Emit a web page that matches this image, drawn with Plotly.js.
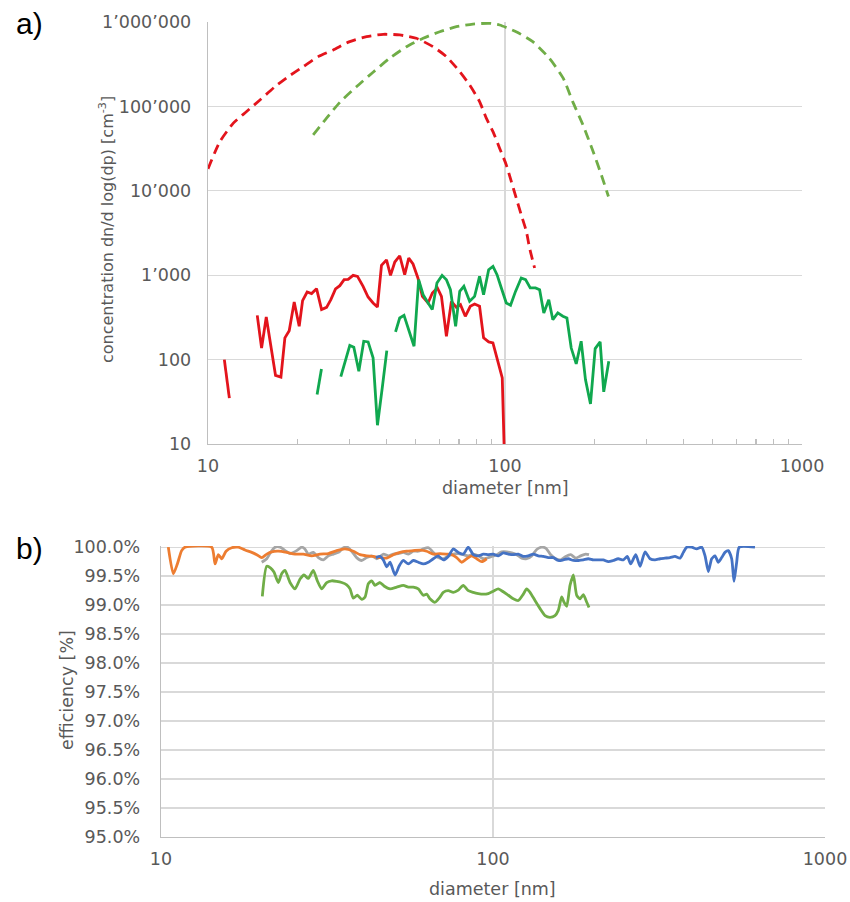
<!DOCTYPE html>
<html>
<head>
<meta charset="utf-8">
<script src="https://cdn.plot.ly/plotly-3.0.1.min.js"></script>
<style>
html,body{margin:0;padding:0;background:#fff;}
#chart{width:850px;height:902px;}
</style>
</head>
<body>
<div id="chart"></div>
<script>
// ---------- panel a) data ----------
const redSolidD = [11.35, 11.8, null, 14.65, 15.15, 15.71, 16.24, 16.88, 17.60, 18.15, 18.77, 19.51, 20.28, 20.82, 21.57, 22.32, 23.20, 24.12, 25.07, 25.92, 26.88, 27.79, 28.73, 29.64, 30.81, 31.87, 33.28, 34.59, 35.96, 37.19, 38.38, 39.91, 41.16, 42.56, 44.21, 45.95, 47.41, 49.01, 50.9, 52.7, 55.06, 56.95, 59.2, 61.1, 63.5, 66.0, 68.6, 70.8, 73.5, 76.4, 79.0, 82.1, 84.7, 88.1, 91.07, 94.6, 97.9, 100.2];
const redSolidV = [100, 35, null, 334, 137, 320, 151, 65, 62, 181, 220, 482, 248, 499, 632, 605, 692, 391, 416, 513, 687, 752, 885, 893, 995, 968, 738, 552, 469, 420, 1306, 1521, 995, 1432, 1700, 1014, 1596, 1357, 927, 561, 469, 615, 706, 561, 189, 490, 416, 448, 326, 428, 456, 428, 181, 162, 158, 95.5, 60.7, 3];

const greenSolidD = [23.3, 24.1, null, 28.0, 29.04, 30.02, 30.97, 32.2, 33.45, 34.6, 35.96, 37.2, 38.6, 40.0, null, 42.8, 44.2, 45.7, 47.4, 49.4, 51.2, 53.0, 55.1, 56.9, 59.0, 61.4, 63.5, 65.5, 68.2, 70.4, 72.7, 76.0, 79.0, 82.1, 84.7, 88.1, 91.1, 94.0, 97.2, 101, 104.4, 108.5, 113.4, 117.3, 121.6, 126.7, 130.8, 135.1, 140.4, 144.9, 150.6, 156.6, 161.6, 167.1, 173.7, 180.5, 186.6, 194.0, 201.2, 209.1, 215, 223.6];
const greenSolidV = [38.5, 77.6, null, 63, 95.5, 147, 140, 72.8, 165, 162, 105, 16.7, 46, 128, null, 213, 311, 334, 226, 144, 885, 588, 469, 391, 809, 995, 885, 673, 248, 643, 738, 490, 561, 968, 588, 1161, 1271, 1014, 706, 469, 440, 643, 927, 885, 706, 706, 673, 357, 513, 297, 357, 326, 311, 137, 89, 165, 58, 29.9, 135, 162, 41.5, 95.5];

const redDashD = [10.0, 10.97, 12.17, 13.49, 14.96, 16.80, 18.62, 20.92, 23.49, 26.4, 30.0, 34.2, 38.9, 44.2, 50.3, 57.2, 63.5, 70.4, 76.0, 82.1, 86.5, 91.1, 95.9, 101, 105, 109.1, 113.4, 118, 121, 125.8];
const redDashV = [18200, 38350, 63300, 87000, 119000, 171000, 225000, 296000, 389000, 467000, 585000, 670000, 715000, 702000, 641000, 510000, 389000, 258000, 180000, 114000, 72500, 50300, 32000, 20300, 12900, 8200, 5200, 3300, 2100, 1217];

const greenDashD = [22.6, 25.07, 27.8, 31.6, 35.96, 40.9, 46.6, 53.0, 60.3, 68.6, 78.0, 88.7, 95.9, 109, 124, 141, 157, 169, 183, 198, 211, 223];
const greenDashV = [46000, 72500, 112000, 171000, 254000, 372000, 510000, 641000, 767000, 880000, 946000, 965000, 921000, 767000, 585000, 372000, 216000, 114000, 60400, 29200, 15500, 8560];

// ---------- panel b) data ----------
const orangeD = [10.52, 10.89, 11.20, 11.54, 11.81, 14.21, 14.55, 14.88, 15.24, 15.70, 16.33, 17.10, 17.91, 18.76, 19.42, 20.11, 20.82, 21.55, 22.56, 23.91, 25.33, 26.83, 28.44, 30.13, 31.92, 33.82, 35.83, 37.96, 39.76, 41.66, 43.61, 45.67, 47.85, 50.09, 52.47, 54.95, 57.54, 60.28, 63.13, 66.09, 69.24, 72.52, 75.08, 77.74, 80.48, 83.33, 86.27, 89.31, 92.48, 95.72];
const orangeV = [100, 99.54, 99.71, 99.94, 100, 100, 99.71, 99.87, 99.80, 99.93, 99.99, 100, 99.95, 99.91, 99.87, 99.82, 99.88, 99.92, 99.93, 99.91, 99.88, 99.88, 99.85, 99.88, 99.89, 99.94, 99.97, 99.93, 99.87, 99.85, 99.84, 99.82, 99.81, 99.87, 99.91, 99.93, 99.94, 99.95, 99.93, 99.88, 99.89, 99.88, 99.87, 99.82, 99.74, 99.80, 99.85, 99.80, 99.75, 99.80];

const grayD = [20.11, 20.82, 21.39, 22.06, 22.85, 23.65, 24.48, 25.63, 26.52, 27.13, 27.76, 28.75, 29.78, 30.83, 31.92, 33.05, 34.22, 35.44, 36.44, 37.52, 38.84, 40.21, 41.66, 43.14, 44.67, 46.79, 48.45, 50.09, 51.87, 53.71, 55.6, 57.54, 59.6, 61.7, 63.9, 66.1, 68.4, 70.9, 73.4, 76.0, 78.7, 81.5, 84.3, 87.3, 90.4, 93.6, 96.9, 100.3, 102.6, 106.2, 110, 113.8, 117.9, 122, 126.3, 130.8, 135.4, 140.2, 144.4, 149.2, 154.5, 159.9, 165.6, 171.4, 177.5, 183.7, 190.2, 194.6];
const grayV = [99.74, 99.80, 99.91, 100, 100, 99.94, 99.89, 99.94, 100, 99.97, 99.88, 99.91, 99.82, 99.78, 99.85, 99.88, 99.91, 99.99, 100, 99.93, 99.82, 99.77, 99.82, 99.85, 99.80, 99.88, 99.85, 99.88, 99.89, 99.91, 99.88, 99.93, 99.93, 99.97, 99.99, 99.91, 99.82, 99.80, 99.85, 99.88, 99.89, 99.87, 99.85, 99.88, 99.85, 99.80, 99.82, 99.85, 99.87, 99.92, 99.92, 99.90, 99.87, 99.81, 99.80, 99.85, 99.96, 100, 99.98, 99.87, 99.80, 99.78, 99.84, 99.87, 99.81, 99.85, 99.88, 99.87];

const blueD = [44.4, 45.67, 46.73, 47.85, 48.97, 50.69, 52.22, 53.69, 55.58, 57.53, 59.57, 61.66, 63.84, 66.09, 68.41, 70.83, 73.34, 75.92, 78.6, 81.38, 84.25, 87.23, 90.3, 93.5, 96.8, 100.2, 103.7, 107.4, 111.2, 115.1, 119.2, 123.4, 127.7, 132.3, 136.9, 141.8, 146.8, 151.9, 157.3, 162.8, 168.6, 174.6, 180.7, 187.1, 193.6, 200.5, 207.6, 214.9, 222.5, 230.3, 238.4, 246.9, 253.8, 259.9, 269.1, 277.3, 287.1, 297.2, 307.6, 318.5, 329.7, 341.3, 353.4, 365.9, 374.4, 383.2, 396.7, 410.8, 425.3, 435.2, 445.2, 455.8, 466.4, 477.2, 488.5, 499.7, 511.3, 523.5, 532, 542, 552, 615.3];
const blueV = [99.82, 99.84, 99.78, 99.66, 99.74, 99.52, 99.68, 99.77, 99.71, 99.77, 99.74, 99.71, 99.74, 99.80, 99.85, 99.78, 99.84, 99.97, 99.91, 99.88, 100, 99.87, 99.85, 99.88, 99.87, 99.88, 99.85, 99.90, 99.88, 99.87, 99.88, 99.84, 99.85, 99.88, 99.85, 99.84, 99.82, 99.82, 99.77, 99.78, 99.80, 99.77, 99.77, 99.78, 99.80, 99.78, 99.78, 99.78, 99.75, 99.77, 99.80, 99.78, 99.84, 99.71, 99.87, 99.67, 99.92, 99.80, 99.78, 99.80, 99.81, 99.82, 99.84, 99.81, 99.91, 100, 100, 99.97, 100, 99.85, 99.58, 99.80, 99.85, 99.74, 99.82, 99.91, 99.94, 99.80, 99.41, 99.74, 100, 100];

const greenEffD = [20.19, 20.82, 21.40, 21.89, 22.56, 23.09, 23.63, 24.47, 25.33, 26.23, 26.96, 27.78, 28.75, 29.57, 30.48, 31.56, 32.68, 33.82, 35.02, 36.25, 37.1, 37.96, 39.03, 40.23, 41.17, 42.12, 43.12, 44.11, 45.67, 46.96, 48.97, 51.29, 53.69, 55.58, 57.53, 59.57, 61.66, 63.13, 64.58, 66.87, 69.24, 70.83, 73.34, 75.92, 78.6, 81.38, 84.25, 87.23, 90.3, 93.5, 96.8, 100.2, 103.7, 107.4, 111.2, 115.1, 119.2, 123.4, 126.3, 129.3, 133.8, 138.6, 143.5, 148.5, 153.7, 157.3, 161, 163.7, 166.7, 170.6, 174.6, 178.7, 182.8, 187.1, 191.6, 194.6];
const greenEffV = [99.15, 99.67, 99.64, 99.57, 99.39, 99.54, 99.60, 99.39, 99.28, 99.45, 99.52, 99.46, 99.60, 99.42, 99.28, 99.39, 99.42, 99.41, 99.39, 99.35, 99.28, 99.12, 99.17, 99.10, 99.14, 99.37, 99.42, 99.34, 99.39, 99.33, 99.28, 99.31, 99.34, 99.31, 99.31, 99.28, 99.17, 99.19, 99.11, 99.05, 99.14, 99.22, 99.25, 99.22, 99.26, 99.34, 99.25, 99.22, 99.20, 99.19, 99.20, 99.24, 99.28, 99.23, 99.17, 99.11, 99.08, 99.19, 99.28, 99.22, 99.08, 98.94, 98.82, 98.79, 98.82, 98.91, 99.14, 99.05, 98.98, 99.34, 99.52, 99.17, 99.11, 99.18, 99.05, 98.96];

// ---------- tick labels ----------
const xTickVals = [10, 100, 1000];
const xTickText = ['10', '100', '1000'];
const xMinorVals = [20, 30, 40, 50, 60, 70, 80, 90, 200, 300, 400, 500, 600, 700, 800, 900];
const yTopTickVals = [10, 100, 1000, 10000, 100000, 1000000];
const yTopTickText = ['10', '100', '1’000', '10’000', '100’000', '1’000’000'];
const yBotTickVals = [95.0, 95.5, 96.0, 96.5, 97.0, 97.5, 98.0, 98.5, 99.0, 99.5, 100.0];
const yBotTickText = ['95.0%', '95.5%', '96.0%', '96.5%', '97.0%', '97.5%', '98.0%', '98.5%', '99.0%', '99.5%', '100.0%'];

// ---------- styling ----------
const FONT = 'DejaVu Sans, Verdana, sans-serif';
const TXT = '#595959';
const GRID = '#d9d9d9';
const AXL = '#bfbfbf';
const W = 850, H = 902;

const RED = '#e3141c';
const GREEN_SOLID = '#10a84f';
const GREEN_DASH = '#70ad47';
const BLUE = '#4472c4';
const ORANGE = '#ed7d31';
const GRAY = '#a5a5a5';
const GREEN_EFF = '#70ad47';

const LW = 2.8;
const DASH = '10px,6px';

function tr(x, y, color, dash, xa, ya, shape) {
  return {
    x: x, y: y, type: 'scatter', mode: 'lines',
    xaxis: xa, yaxis: ya, connectgaps: false,
    line: {color: color, width: LW, dash: dash, shape: shape || 'linear', smoothing: 0.6},
    hoverinfo: 'skip', showlegend: false
  };
}

const data = [
  tr(redDashD, redDashV, RED, DASH, 'x', 'y', 'spline'),
  tr(greenDashD, greenDashV, GREEN_DASH, DASH, 'x', 'y', 'spline'),
  tr(redSolidD, redSolidV, RED, 'solid', 'x', 'y'),
  tr(greenSolidD, greenSolidV, GREEN_SOLID, 'solid', 'x', 'y'),
  tr(grayD, grayV, GRAY, 'solid', 'x2', 'y2', 'spline'),
  tr(orangeD, orangeV, ORANGE, 'solid', 'x2', 'y2', 'spline'),
  tr(blueD, blueV, BLUE, 'solid', 'x2', 'y2', 'spline'),
  tr(greenEffD, greenEffV, GREEN_EFF, 'solid', 'x2', 'y2', 'spline')
];

const tickFont = {family: FONT, size: 17.5, color: TXT};

function xAxisBase(domain, anchor) {
  return {
    type: 'log', range: [1, 3], domain: domain, anchor: anchor,
    tickmode: 'array', tickvals: xTickVals, ticktext: xTickText,
    ticks: '', showgrid: true, gridcolor: GRID, gridwidth: 1.3,
    showline: true, linecolor: AXL, linewidth: 1.3, zeroline: false,
    tickfont: tickFont, ticklabelstandoff: 6, automargin: false, fixedrange: true
  };
}

const layout = {
  width: W, height: H,
  margin: {l: 0, r: 0, t: 0, b: 0},
  paper_bgcolor: '#ffffff', plot_bgcolor: '#ffffff',
  showlegend: false,
  xaxis: Object.assign(xAxisBase([208 / W, 802 / W], 'y'), {
    minor: {tickmode: 'array', tickvals: xMinorVals, ticks: 'inside', ticklen: 5,
            tickcolor: AXL, tickwidth: 1.2, showgrid: false}
  }),
  yaxis: {
    type: 'log', range: [1, 6], domain: [1 - 444 / H, 1 - 22 / H], anchor: 'x',
    tickmode: 'array', tickvals: yTopTickVals, ticktext: yTopTickText,
    ticks: '', showgrid: true, gridcolor: GRID, gridwidth: 1.3,
    showline: true, linecolor: AXL, linewidth: 1.3, zeroline: false,
    tickfont: tickFont, ticklabelstandoff: 12, automargin: false, fixedrange: true
  },
  xaxis2: xAxisBase([161 / W, 825 / W], 'y2'),
  yaxis2: {
    type: 'linear', range: [95, 100.02], domain: [1 - 837 / H, 1 - 546 / H], anchor: 'x2',
    tickmode: 'array', tickvals: yBotTickVals, ticktext: yBotTickText,
    ticks: '', showgrid: true, gridcolor: GRID, gridwidth: 1.3,
    showline: true, linecolor: AXL, linewidth: 1.3, zeroline: false,
    tickfont: tickFont, ticklabelstandoff: 16, automargin: false, fixedrange: true
  },
  annotations: [
    {text: 'a)', xref: 'paper', yref: 'paper', x: 14 / W, y: 1 - 23 / H, xanchor: 'left', yanchor: 'middle',
     showarrow: false, font: {family: 'Liberation Sans, Arial, sans-serif', size: 30, color: '#000'}},
    {text: 'b)', xref: 'paper', yref: 'paper', x: 14 / W, y: 1 - 548 / H, xanchor: 'left', yanchor: 'middle',
     showarrow: false, font: {family: 'Liberation Sans, Arial, sans-serif', size: 30, color: '#000'}},
    {text: 'concentration dn/d log(dp) [cm<sup>-3</sup>]', xref: 'paper', yref: 'paper',
     x: 106 / W, y: 1 - 230 / H, xanchor: 'center', yanchor: 'middle', textangle: -90,
     showarrow: false, font: {family: FONT, size: 16, color: TXT}},
    {text: 'diameter [nm]', xref: 'paper', yref: 'paper', x: 505 / W, y: 1 - 488 / H,
     xanchor: 'center', yanchor: 'middle', showarrow: false, font: {family: FONT, size: 17.5, color: TXT}},
    {text: 'efficiency [%]', xref: 'paper', yref: 'paper',
     x: 67 / W, y: 1 - 690 / H, xanchor: 'center', yanchor: 'middle', textangle: -90,
     showarrow: false, font: {family: FONT, size: 17.5, color: TXT}},
    {text: 'diameter [nm]', xref: 'paper', yref: 'paper', x: 493 / W, y: 1 - 889 / H,
     xanchor: 'center', yanchor: 'middle', showarrow: false, font: {family: FONT, size: 17.5, color: TXT}}
  ]
};

Plotly.newPlot('chart', data, layout, {displayModeBar: false, staticPlot: true});
</script>
</body>
</html>
